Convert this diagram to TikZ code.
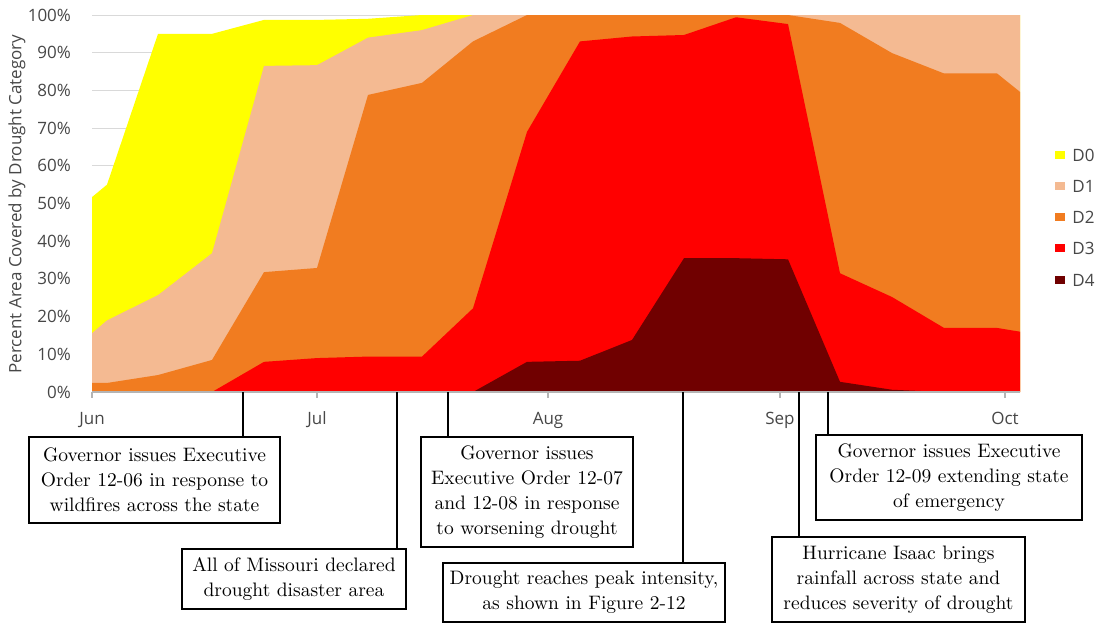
\documentclass[tikz,border=0pt]{standalone}
\usepackage{fontspec}
\newfontfamily\chartfont{Open Sans}
\usepackage{tikz}
\usetikzlibrary{positioning}
\definecolor{colDzero}{RGB}{255,255,0}
\definecolor{colDone}{RGB}{244,186,146}
\definecolor{colDtwo}{RGB}{241,124,32}
\definecolor{colDthree}{RGB}{255,0,0}
\definecolor{colDfour}{RGB}{112,0,0}
\definecolor{gridgray}{RGB}{217,217,217}
\definecolor{axisgray}{RGB}{180,180,180}

\begin{document}
\begin{tikzpicture}[x=0.5pt, y=-0.5pt,
            event/.style={draw, rectangle, line width=0.7pt, inner sep=0pt, align=center,
                font=\fontsize{9.75}{12.5}\selectfont},
            lead/.style={line width=0.75pt},
            axislabel/.style={font=\chartfont\fontsize{8.5}{10}\selectfont, text=black!72},
            legendkey/.style={rectangle, inner sep=0pt, minimum width=5pt, minimum height=4pt}]
            \useasboundingbox (0,0) rectangle (1096,623);

            \begin{scope}[shift={(0,392)}, y=1.885pt]
                \foreach \p in {10,20,...,100}
                    \draw[gridgray, line width=0.5pt] (92,\p) -- (1020,\p);

                \fill[colDzero] (92,0) -- plot coordinates {(92,51.7) (107,55) (158,95) (212,95) (264,98.7) (317,98.7)
                    (368,99) (422,100) (473,100) (1020,100)} -- (1020,0) -- cycle;
                \fill[colDone] (92,0) -- plot coordinates {(92,15.6) (107,19) (158,25.7) (212,36.8) (264,86.5) (317,86.7)
                    (368,94) (422,96) (473,100) (1020,100)} -- (1020,0) -- cycle;
                \fill[colDtwo] (92,0) -- plot coordinates {(92,2.4) (107,2.4) (158,4.5) (212,8.5) (264,31.8) (317,32.9)
                    (368,78.8) (422,82) (473,93) (527,100) (788,100) (840,97.9) (892,89.9) (944,84.5) (997,84.5)
                    (1020,79.6)} -- (1020,0) -- cycle;
                \fill[colDthree] (212,0) -- plot coordinates {(264,8) (317,9) (368,9.4) (422,9.4) (473,22.2) (527,69)
                    (580,93) (632,94.3) (684,94.7) (736,99.4) (788,97.6) (840,31.5) (892,25.2) (944,17) (997,17)
                    (1020,16)} -- (1020,0) -- cycle;
                \fill[colDfour] (473,0) -- plot coordinates {(527,8) (580,8.3) (632,13.8) (684,35.5) (736,35.5)
                    (788,35.2) (840,2.7) (892,0.6) (944,0)} -- cycle;

                \draw[axisgray, line width=0.6pt] (92,0) -- (1020,0);
                \foreach \p in {0,10,...,100}
                    \node[axislabel, anchor=east] at (78,\p) {\p\%};
            \end{scope}

            \foreach \x/\m in {92/Jun, 317/Jul, 548/Aug, 780/Sep, 1005/Oct} {
                \draw[axisgray, line width=0.6pt] (\x,392) -- (\x,398);
                \node[axislabel, anchor=base] at (\x,424) {\m};
            }
            \node[axislabel, rotate=90] (ytitle) at (17,204) {Percent Area Covered by Drought Category};

            \node[legendkey, fill=colDzero] (keyD0) at (1060,155) {};
            \node[legendkey, fill=colDone] (keyD1) at (1060,186) {};
            \node[legendkey, fill=colDtwo] (keyD2) at (1060,217) {};
            \node[legendkey, fill=colDthree] (keyD3) at (1060,248) {};
            \node[legendkey, fill=colDfour] (keyD4) at (1060,280) {};
            \node[axislabel, right=0pt of keyD0] {D0};
            \node[axislabel, right=0pt of keyD1] {D1};
            \node[axislabel, right=0pt of keyD2] {D2};
            \node[axislabel, right=0pt of keyD3] {D3};
            \node[axislabel, right=0pt of keyD4] {D4};

            \node[event, minimum width=125.5pt, minimum height=43pt] (eo1206) at (154.5,480)
                {Governor issues Executive\\Order 12-06 in response to\\wildfires across the state};
            \node[event, minimum width=112pt, minimum height=30pt] (disaster) at (294,579)
                {All of Missouri declared\\drought disaster area};
            \node[event, minimum width=106pt, minimum height=55pt] (eo1207) at (527,492)
                {Governor issues\\Executive Order 12-07\\and 12-08 in response\\to worsening drought};
            \node[event, minimum width=141pt, minimum height=29.5pt] (peak) at (584,592.5)
                {Drought reaches peak intensity,\\as shown in Figure 2-12};
            \node[event, minimum width=126.5pt, minimum height=42.5pt] (isaac) at (898.5,579.5)
                {Hurricane Isaac brings\\rainfall across state and\\reduces severity of drought};
            \node[event, minimum width=133pt, minimum height=42.5pt] (eo1209) at (949,477.5)
                {Governor issues Executive\\Order 12-09 extending state\\of emergency};

            \coordinate (t1206) at (243,392);
            \coordinate (tdisaster) at (397,392);
            \coordinate (t1207) at (448,392);
            \coordinate (tpeak) at (683,392);
            \coordinate (tisaac) at (799,392);
            \coordinate (t1209) at (828,392);
            \draw[lead] (t1206) -- (t1206 |- eo1206.north);
            \draw[lead] (tdisaster) -- (tdisaster |- disaster.north);
            \draw[lead] (t1207) -- (t1207 |- eo1207.north);
            \draw[lead] (tpeak) -- (tpeak |- peak.north);
            \draw[lead] (tisaac) -- (tisaac |- isaac.north);
            \draw[lead] (t1209) -- (t1209 |- eo1209.north);
        \end{tikzpicture}
\end{document}
